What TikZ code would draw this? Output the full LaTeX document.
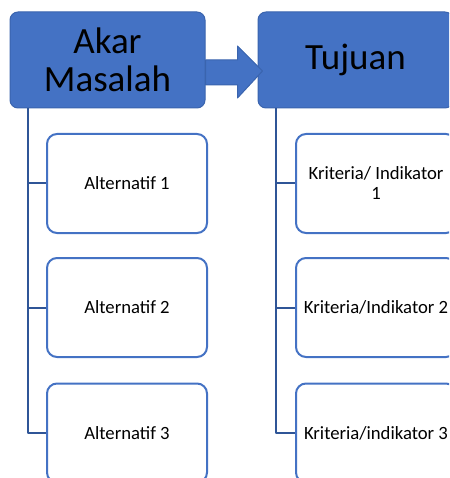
\documentclass[tikz,border=0pt]{standalone}
\usepackage{fontspec}
\setmainfont{Carlito}
\definecolor{biru}{HTML}{4472C4}
\definecolor{birutepi}{HTML}{3A64AE}
\definecolor{birugaris}{HTML}{2F5597}
\begin{document}
\begin{tikzpicture}[x=1pt, y=-1pt, line join=round, line cap=round,
		kepala/.style={rectangle, rounded corners=8pt, fill=biru, draw=birutepi, line width=1pt, minimum width=195pt, minimum height=96pt, align=center, inner sep=0pt, font=\fontsize{37}{38}\selectfont},
		anak/.style={rectangle, rounded corners=10pt, fill=white, draw=biru, line width=2pt, minimum width=160pt, minimum height=99pt, align=center, inner sep=0pt, font=\fontsize{18.7}{20}\selectfont},
		cabang/.style={draw=birugaris, line width=2pt, line cap=butt},
		panah/.style={fill=biru, draw=birutepi, line width=1pt}]
			\useasboundingbox (0,0) rectangle (449,478);
			\clip (0,0) rectangle (449,478);
			\node[kepala] (akar) at (107.5,60) {Akar\\Masalah};
			\node[kepala] (tujuan) at (355.5,60) {Tujuan};
			\node[anak] (alt1) at (127,183.5) {Alternatif 1};
			\node[anak] (alt2) at (127,307.5) {Alternatif 2};
			\node[anak] (alt3) at (127,433) {Alternatif 3};
			\node[anak] (kri1) at (376,183.5) {Kriteria/ Indikator\\1};
			\node[anak] (kri2) at (376,307.5) {Kriteria/Indikator 2};
			\node[anak] (kri3) at (376,433) {Kriteria/indikator 3};
			\coordinate (batangkiri) at ([xshift=18pt]akar.south west);
			\coordinate (batangkanan) at ([xshift=18pt]tujuan.south west);
			\draw[cabang] (batangkiri) |- (alt1.west) (batangkiri) |- (alt2.west) (batangkiri) |- (alt3.west);
			\draw[cabang] (batangkanan) |- (kri1.west) (batangkanan) |- (kri2.west) (batangkanan) |- (kri3.west);
			\draw[panah, shift={(akar.east)}] (0,0)--(32,0)--(32,-14)--(57,11)--(32,38)--(32,25)--(0,25)--cycle;
		\end{tikzpicture}
\end{document}
